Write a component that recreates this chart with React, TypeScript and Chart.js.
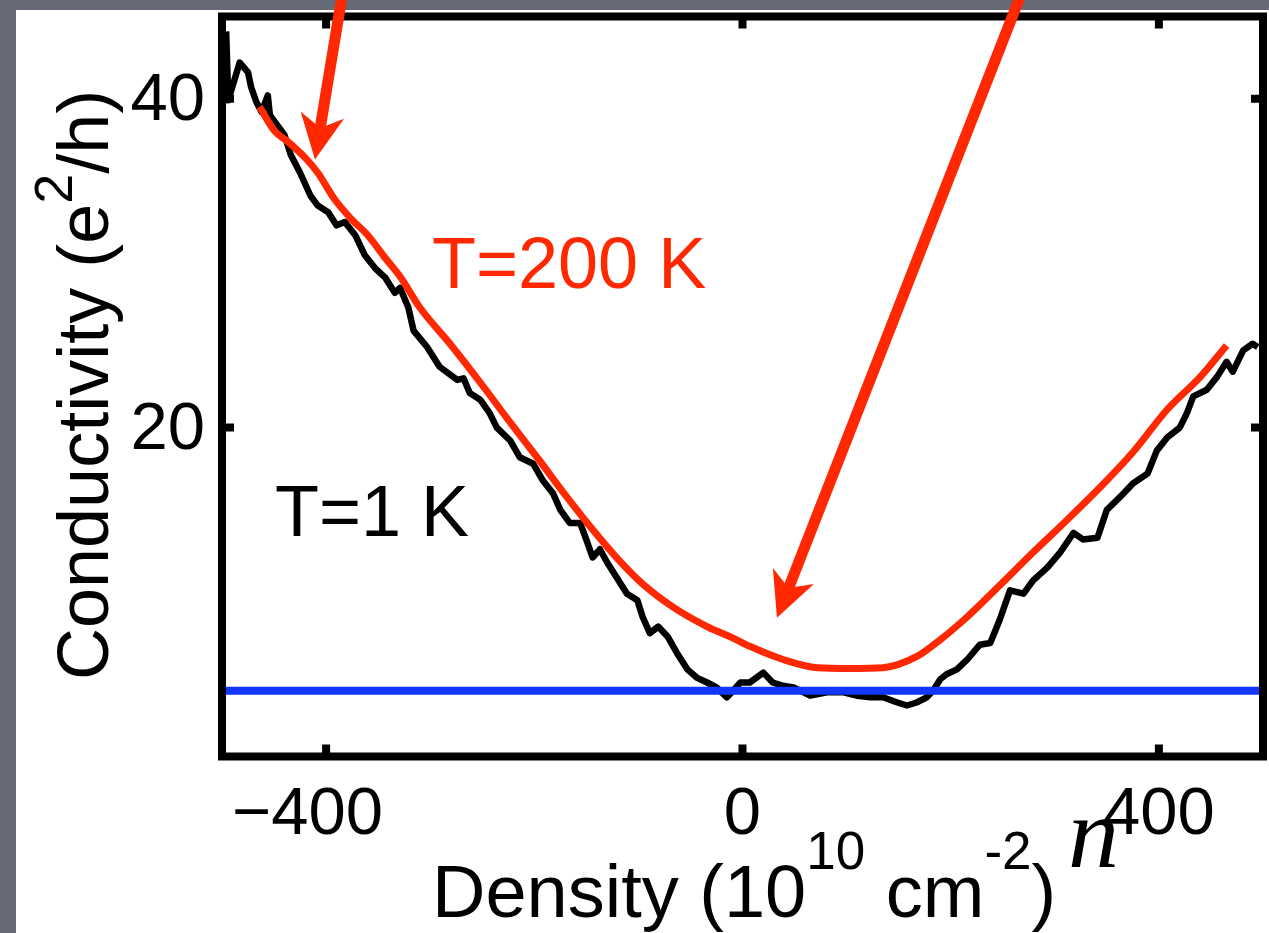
import React, { useEffect, useRef } from "react";
import { Chart, registerables } from "chart.js";

Chart.register(...registerables);

const FONT = "'Liberation Sans', Arial, Helvetica, sans-serif";
const RED = "#ff2800";
const BLUE = "#1236ff";

// T = 1 K trace (density in 1e10 cm^-2, conductivity in e^2/h)
const lowTDensity = [
  -496, -494, -483, -475, -472, -467, -462, -456, -454, -440, -434, -425, -420, -415, -408, -398,
  -390, -382, -372, -363, -353, -343, -334, -329, -321, -316, -303, -291, -274, -268, -262, -252,
  -243, -236, -223, -214, -201, -192, -182, -175, -166, -156, -149, -144, -137, -130, -121, -111,
  -101, -96, -89, -81, -72, -63, -53, -44, -34, -25, -15, -9, -2, 7, 20, 29, 39, 49, 65, 81, 97,
  110, 123, 135, 148, 158, 168, 177, 183, 190, 196, 206, 216, 228, 238, 247, 257, 270, 279, 293,
  305, 318, 327, 341, 350, 363, 375, 389, 398, 408, 420, 427, 433, 446, 456, 465, 471, 481, 490, 495,
];
const lowTConductivity = [
  44.1, 39.9, 42.2, 41.6, 40.7, 39.8, 39.2, 40.2, 39.0, 37.8, 36.6, 35.5, 34.8, 34.1, 33.5, 33.1,
  32.3, 32.5, 31.7, 30.5, 29.7, 29.1, 28.2, 28.5, 27.3, 25.9, 24.9, 23.7, 22.9, 23.0, 22.1, 21.7,
  20.9, 20.0, 19.2, 18.2, 17.8, 16.8, 16.0, 15.0, 14.2, 14.2, 13.0, 12.1, 12.6, 11.8, 10.9, 9.9,
  9.5, 8.5, 7.5, 7.9, 7.3, 6.3, 5.3, 4.8, 4.5, 4.2, 3.6, 4.0, 4.5, 4.5, 5.1, 4.5, 4.3, 4.2, 3.7, 3.9, 3.9,
  3.7, 3.6, 3.6, 3.3, 3.1, 3.3, 3.6, 4.0, 4.7, 5.0, 5.3, 5.9, 6.8, 6.9, 8.3, 10.1, 9.9, 10.7, 11.5,
  12.4, 13.6, 13.2, 13.3, 15.0, 15.8, 16.6, 17.2, 18.6, 19.4, 20.0, 20.9, 21.9, 22.3, 23.1, 24.0, 23.4, 24.7, 25.1, 24.9,
];

// T = 200 K trace
const highTDensity = [
  -464, -449, -437, -420, -408, -392, -376, -360, -343, -328, -310, -281, -249, -223, -195, -169,
  -144, -121, -96, -67, -34, -9, 7, 39, 72, 103, 135, 168, 190, 216, 247, 279, 312, 344, 375, 408, 440, 465,
];
const highTConductivity = [
  39.5, 38.0, 37.4, 36.4, 35.5, 33.9, 32.7, 31.7, 30.3, 29.1, 27.3, 25.1, 22.5, 20.3, 18.0, 15.8,
  13.8, 12.1, 10.5, 9.1, 7.9, 7.2, 6.7, 5.9, 5.4, 5.35, 5.4, 6.1, 7.1, 8.5, 10.4, 12.4, 14.4, 16.4, 18.5, 21.1, 23.1, 25.0,
];

// minimum conductivity level
const minDensity = [-500, 500];
const minConductivity = [4, 4];

const xTickValues = [-400, 0, 400];
const yTickValues = [20, 40];

// annotation arrows (data coordinates): tail -> tip
const arrowTailX = [-384, 268.5];
const arrowTailY = [46.5, 46.5];
const arrowTipX = [-410.7, 33.1];
const arrowTipY = [36.3, 8.43];

// in-plot labels
const labelTexts = ["T=200 K", "T=1 K"];
const labelX = [-298.3, -449.1];
const labelY = [28.49, 13.41];
const labelColors = [RED, "#000000"];

const pts = (xs: number[], ys: number[]) => xs.map((x, i) => ({ x, y: ys[i] }));

type Part = [string, boolean];
const xTitleParts: Part[] = [["Density (10", false], ["10", true], [" cm", false], ["-2", true], [")", false]];
const yTitleParts: Part[] = [["Conductivity (e", false], ["2", true], ["/h)", false]];

function drawRich(ctx: CanvasRenderingContext2D, parts: Part[], x: number, y: number, size: number, supSize: number, raise: number) {
  let cx = x;
  ctx.textAlign = "left";
  ctx.textBaseline = "alphabetic";
  for (const [t, sup] of parts) {
    ctx.font = `${sup ? supSize : size}px ${FONT}`;
    ctx.fillText(t, cx, sup ? y - raise : y);
    cx += ctx.measureText(t).width;
  }
}

function drawArrow(ctx: CanvasRenderingContext2D, x0: number, y0: number, x1: number, y1: number) {
  const dx = x1 - x0, dy = y1 - y0;
  const len = Math.hypot(dx, dy);
  const ux = dx / len, uy = dy / len;
  const px = -uy, py = ux;
  const L = 45, W = 22, N = 32;
  ctx.strokeStyle = RED;
  ctx.lineWidth = 11;
  ctx.lineCap = "butt";
  ctx.beginPath();
  ctx.moveTo(x0, y0);
  ctx.lineTo(x1 - ux * N, y1 - uy * N);
  ctx.stroke();
  ctx.fillStyle = RED;
  ctx.beginPath();
  ctx.moveTo(x1, y1);
  ctx.lineTo(x1 - ux * L + px * W, y1 - uy * L + py * W);
  ctx.lineTo(x1 - ux * N, y1 - uy * N);
  ctx.lineTo(x1 - ux * L - px * W, y1 - uy * L - py * W);
  ctx.closePath();
  ctx.fill();
}

const bgPlugin = {
  id: "slideBg",
  beforeDraw(chart: any) {
    const { ctx, width, height } = chart;
    ctx.save();
    ctx.fillStyle = "#656a76";
    ctx.fillRect(0, 0, width, height);
    ctx.fillStyle = "#ffffff";
    ctx.fillRect(16, 10, width - 16, height - 10);
    ctx.restore();
  },
};

const framePlugin = {
  id: "frame",
  afterDatasetsDraw(chart: any) {
    const { ctx, chartArea } = chart;
    const { left, right, top, bottom } = chartArea;
    const xs = chart.scales.x, ys = chart.scales.y;
    ctx.save();
    ctx.strokeStyle = "#000";
    ctx.lineWidth = 8;
    ctx.lineJoin = "miter";
    ctx.strokeRect(left, top, right - left, bottom - top);
    ctx.lineCap = "butt";
    const T = 12;
    for (const v of xTickValues) {
      const p = xs.getPixelForValue(v);
      ctx.beginPath();
      ctx.moveTo(p, bottom); ctx.lineTo(p, bottom - T);
      ctx.moveTo(p, top); ctx.lineTo(p, top + T);
      ctx.stroke();
    }
    for (const v of yTickValues) {
      const p = ys.getPixelForValue(v);
      ctx.beginPath();
      ctx.moveTo(left, p); ctx.lineTo(left + T, p);
      ctx.moveTo(right, p); ctx.lineTo(right - T, p);
      ctx.stroke();
    }
    ctx.restore();
  },
};

const annotationPlugin = {
  id: "annotations",
  afterDraw(chart: any) {
    const { ctx, chartArea } = chart;
    const xs = chart.scales.x, ys = chart.scales.y;
    ctx.save();
    // in-plot labels
    ctx.textAlign = "left";
    ctx.textBaseline = "alphabetic";
    ctx.font = `72px ${FONT}`;
    labelTexts.forEach((t, i) => {
      ctx.fillStyle = labelColors[i];
      ctx.fillText(t, xs.getPixelForValue(labelX[i]), ys.getPixelForValue(labelY[i]));
    });
    // arrows
    for (let i = 0; i < arrowTailX.length; i++) {
      drawArrow(
        ctx,
        xs.getPixelForValue(arrowTailX[i]), ys.getPixelForValue(arrowTailY[i]),
        xs.getPixelForValue(arrowTipX[i]), ys.getPixelForValue(arrowTipY[i])
      );
    }
    // axis titles
    ctx.fillStyle = "#000";
    drawRich(ctx, xTitleParts, chartArea.left + 210, chartArea.bottom + 160.5, 74, 53, 48);
    ctx.save();
    ctx.translate(chartArea.left - 114, chartArea.bottom - 76.5);
    ctx.rotate(-Math.PI / 2);
    drawRich(ctx, yTitleParts, 0, 0, 72, 54, 36);
    ctx.restore();
    // variable symbol
    ctx.font = `italic 102px 'Liberation Serif', 'DejaVu Serif', serif`;
    ctx.fillStyle = "#000";
    ctx.fillText("n", chartArea.left + 846, chartArea.bottom + 110);
    ctx.restore();
  },
};

export default function App() {
  const ref = useRef<HTMLCanvasElement>(null);
  useEffect(() => {
    const canvas = ref.current;
    if (!canvas) return;
    const chart = new Chart(canvas, {
      type: "line",
      data: {
        datasets: [
          {
            label: "Minimum conductivity",
            data: pts(minDensity, minConductivity),
            borderColor: BLUE,
            borderWidth: 8,
            pointRadius: 0,
            tension: 0,
            order: 0,
          },
          {
            label: "T=200 K",
            data: pts(highTDensity, highTConductivity),
            borderColor: RED,
            borderWidth: 7,
            pointRadius: 0,
            cubicInterpolationMode: "monotone",
            order: 1,
          },
          {
            label: "T=1 K",
            data: pts(lowTDensity, lowTConductivity),
            borderColor: "#000000",
            borderWidth: 6.5,
            pointRadius: 0,
            tension: 0,
            borderJoinStyle: "round",
            order: 2,
          },
        ],
      },
      options: {
        responsive: false,
        animation: false,
        devicePixelRatio: 1,
        layout: { padding: { left: 0, top: 16.5, right: 6, bottom: 0 } },
        plugins: {
          legend: { display: false },
          tooltip: { enabled: false },
          title: { display: false },
        },
        scales: {
          x: {
            type: "linear",
            min: -500,
            max: 500,
            grid: { display: false },
            border: { display: false },
            afterBuildTicks: (s: any) => {
              s.ticks = xTickValues.map((v) => ({ value: v }));
            },
            afterFit: (s: any) => {
              s.height = 176.5;
              s.paddingLeft = 0;
              s.paddingRight = 0;
            },
            ticks: {
              font: { family: FONT, size: 67 },
              color: "#000",
              padding: 11,
              maxRotation: 0,
              autoSkip: false,
              callback: (v: any) => (v < 0 ? "\u2212" + Math.abs(v) + "\u00a0\u00a0" : String(v)),
            },
          },
          y: {
            type: "linear",
            min: 0,
            max: 45,
            grid: { display: false },
            border: { display: false },
            afterBuildTicks: (s: any) => {
              s.ticks = yTickValues.map((v) => ({ value: v }));
            },
            afterFit: (s: any) => {
              s.width = 222;
              s.paddingTop = 0;
              s.paddingBottom = 0;
            },
            ticks: {
              font: { family: FONT, size: 67 },
              color: "#000",
              padding: 9,
              labelOffset: 3,
              autoSkip: false,
              callback: (v: any) => String(v),
            },
          },
        },
      },
      plugins: [bgPlugin, framePlugin, annotationPlugin],
    } as any);
    return () => chart.destroy();
  }, []);
  return (
    <div style={{ position: "absolute", left: 0, top: 0, width: 1269, height: 933 }}>
      <canvas ref={ref} width={1269} height={933} style={{ display: "block" }} />
    </div>
  );
}
